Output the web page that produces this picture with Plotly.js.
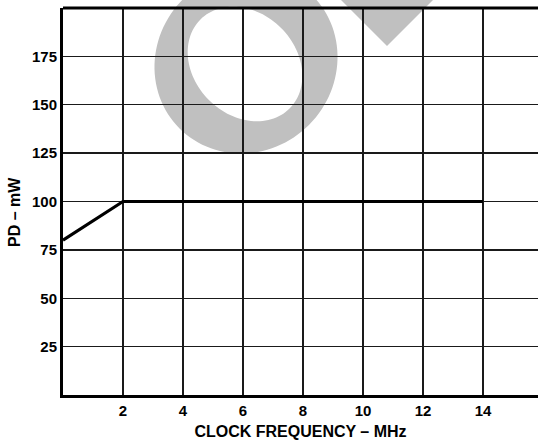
<!DOCTYPE html>
<html>
<head>
<meta charset="utf-8">
<script src="https://cdn.plot.ly/plotly-3.0.1.min.js"></script>
<style>html,body{margin:0;padding:0;background:#fff;}#chart{width:538px;height:445px;}</style>
</head>
<body>
<div id="chart"></div>
<script>
// ---- data ----
var clockFreq = [0, 2, 14];          // MHz
var powerDiss = [80, 100, 100];      // mW
var xTickVals = [2, 4, 6, 8, 10, 12, 14];
var xTickText = ['2', '4', '6', '8', '10', '12', '14'];
var yTickVals = [25, 50, 75, 100, 125, 150, 175];
var yTickText = ['25', '50', '75', '100', '125', '150', '175'];
var xTitle = 'CLOCK FREQUENCY – MHz';
var yTitle = 'PD – mW';

// ---- geometry of plot area (pixels) ----
var W = 538, H = 445;
var M = {l: 63, r: 0, t: 8, b: 50};
var PW = W - M.l - M.r, PH = H - M.t - M.b;
function px2paper(px, py) {
  return [(px - M.l) / PW, (H - M.b - py) / PH];
}
function ellipsePath(cx, cy, a, b, angDeg, n) {
  var th = angDeg * Math.PI / 180, s = '';
  for (var i = 0; i < n; i++) {
    var t = 2 * Math.PI * i / n;
    var ex = a * Math.cos(t), ey = b * Math.sin(t);
    var x = cx + ex * Math.cos(th) - ey * Math.sin(th);
    var y = cy + ex * Math.sin(th) + ey * Math.cos(th);
    var p = px2paper(x, y);
    s += (i === 0 ? 'M' : 'L') + p[0].toFixed(5) + ',' + p[1].toFixed(5);
  }
  return s + 'Z';
}
function polyPath(pts) {
  var s = '';
  pts.forEach(function (q, i) {
    var p = px2paper(q[0], q[1]);
    s += (i === 0 ? 'M' : 'L') + p[0].toFixed(5) + ',' + p[1].toFixed(5);
  });
  return s + 'Z';
}

var wmColor = '#c0c0c0';
var ringPath = ellipsePath(246, 62, 94, 89, -45, 120) + ' ' + ellipsePath(245, 64, 63, 51, 45, 120);
var triPath = polyPath([[387, 46], [327, -14], [447, -14]]);

var font = {family: 'Liberation Sans, Arial, Helvetica, sans-serif', size: 15, color: '#000', weight: 'bold'};

var trace = {
  x: clockFreq, y: powerDiss, type: 'scatter', mode: 'lines',
  line: {color: '#000', width: 3.2}, hoverinfo: 'skip', showlegend: false
};

var layout = {
  width: W, height: H,
  margin: M,
  paper_bgcolor: '#fff', plot_bgcolor: 'rgba(0,0,0,0)',
  showlegend: false,
  font: font,
  xaxis: {
    range: [0, PW / 30], fixedrange: true,
    tickvals: xTickVals, ticktext: xTickText, tickfont: font,
    ticks: '', showgrid: true, gridcolor: '#1a1a1a', gridwidth: 1.3,
    zeroline: false, showline: true, linecolor: '#000', linewidth: 3,
    title: {text: xTitle, font: {family: font.family, size: 16, color: '#000', weight: 'bold'}, standoff: 8},
    automargin: false
  },
  yaxis: {
    range: [0, 200], fixedrange: true,
    tickvals: yTickVals, ticktext: yTickText, tickfont: font,
    ticks: '', showgrid: true, gridcolor: '#1a1a1a', gridwidth: 1.3,
    zeroline: false, showline: true, linecolor: '#000', linewidth: 3,
    automargin: false
  },
  shapes: [
    {type: 'path', xref: 'paper', yref: 'paper', path: ringPath, fillcolor: wmColor, fillrule: 'evenodd', line: {width: 0}, layer: 'below'},
    {type: 'path', xref: 'paper', yref: 'paper', path: triPath, fillcolor: wmColor, line: {width: 0}, layer: 'below'},
    {type: 'line', xref: 'paper', yref: 'paper', x0: 0, x1: 1, y0: 1, y1: 1, line: {color: '#000', width: 3}, layer: 'above'}
  ],
  annotations: [
    {text: yTitle, xref: 'paper', yref: 'paper', x: (14 - M.l) / PW, y: (H - M.b - 212) / PH,
     xanchor: 'center', yanchor: 'middle', textangle: -90, showarrow: false,
     font: {family: font.family, size: 16, color: '#000', weight: 'bold'}}
  ]
};

Plotly.newPlot('chart', [trace], layout, {staticPlot: true, displayModeBar: false});
</script>
</body>
</html>
